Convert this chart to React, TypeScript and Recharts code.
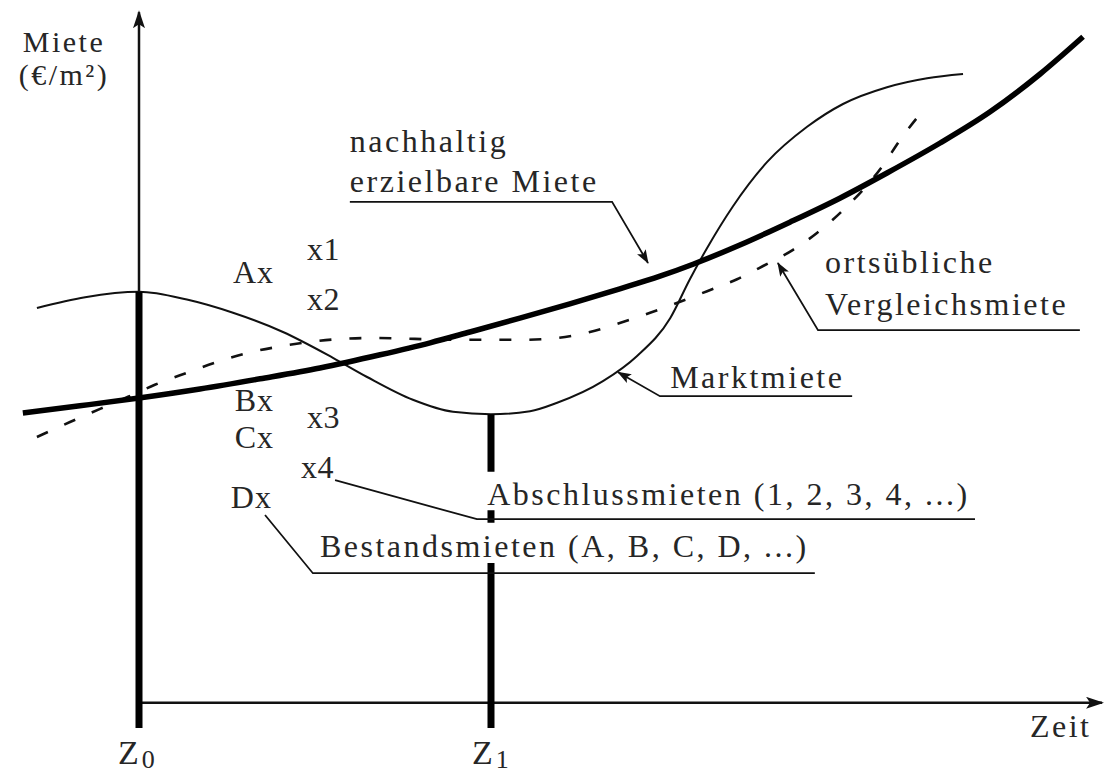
import React from 'react';
import { ComposedChart, Line, Scatter, XAxis, YAxis } from 'recharts';

// Zeit t in Jahren (Z0 = 0, Z1 = 10), Miete r in €/m²
const nachhaltigErzielbar = [
  { t: -3.3, r: 4.85 }, { t: -1.68, r: 4.97 }, { t: 0, r: 5.1 }, { t: 1.73, r: 5.25 },
  { t: 3.44, r: 5.42 }, { t: 5.14, r: 5.6 }, { t: 6.85, r: 5.82 }, { t: 8.27, r: 6.02 },
  { t: 9.4, r: 6.2 }, { t: 10.82, r: 6.43 }, { t: 12.24, r: 6.67 }, { t: 13.66, r: 6.92 },
  { t: 14.8, r: 7.13 }, { t: 15.74, r: 7.33 }, { t: 17.07, r: 7.65 }, { t: 18.49, r: 8.03 },
  { t: 19.91, r: 8.43 }, { t: 21.25, r: 8.85 }, { t: 22.76, r: 9.35 }, { t: 24.18, r: 9.87 },
  { t: 25.6, r: 10.5 }, { t: 26.82, r: 11.12 },
];

const marktmiete = [
  { t: -2.9, r: 6.6 }, { t: -1.53, r: 6.78 }, { t: 0, r: 6.87 }, { t: 1.36, r: 6.74 },
  { t: 2.67, r: 6.52 }, { t: 4.09, r: 6.2 }, { t: 5.51, r: 5.77 }, { t: 6.48, r: 5.45 },
  { t: 7.78, r: 5.07 }, { t: 8.92, r: 4.87 }, { t: 10, r: 4.83 }, { t: 11.11, r: 4.88 },
  { t: 11.88, r: 5.02 }, { t: 13.18, r: 5.38 }, { t: 14.15, r: 5.8 }, { t: 15.09, r: 6.43 },
  { t: 15.65, r: 7.08 }, { t: 16.14, r: 7.6 }, { t: 16.88, r: 8.3 }, { t: 17.84, r: 9.03 },
  { t: 18.98, r: 9.62 }, { t: 20.0, r: 10.0 }, { t: 21.25, r: 10.28 }, { t: 22.39, r: 10.43 },
  { t: 23.41, r: 10.5 },
];

const vergleichsmiete = [
  { t: -2.9, r: 4.45 }, { t: -1.96, r: 4.7 }, { t: -0.31, r: 5.12 }, { t: 0.45, r: 5.32 },
  { t: 1.36, r: 5.52 }, { t: 2.22, r: 5.7 }, { t: 3.07, r: 5.85 }, { t: 3.92, r: 5.95 },
  { t: 5.63, r: 6.08 }, { t: 6.56, r: 6.1 }, { t: 9.12, r: 6.07 }, { t: 10.82, r: 6.07 },
  { t: 11.88, r: 6.1 }, { t: 12.81, r: 6.2 }, { t: 13.66, r: 6.35 }, { t: 14.52, r: 6.52 },
  { t: 16.14, r: 6.88 }, { t: 16.99, r: 7.08 }, { t: 17.73, r: 7.3 }, { t: 18.58, r: 7.57 },
  { t: 19.26, r: 7.85 }, { t: 20.0, r: 8.23 }, { t: 21.14, r: 8.98 }, { t: 21.62, r: 9.4 },
  { t: 22.24, r: 9.87 },
];

// Einzelne Mieten
const bestandsmieten = [
  { name: 'A', t: 3.61, r: 7.15 },
  { name: 'B', t: 3.61, r: 5.02 },
  { name: 'C', t: 3.61, r: 4.4 },
  { name: 'D', t: 3.55, r: 3.4 },
];
const abschlussmieten = [
  { name: '1', t: 5.0, r: 7.53 },
  { name: '2', t: 5.0, r: 6.7 },
  { name: '3', t: 5.0, r: 4.73 },
  { name: '4', t: 4.83, r: 3.9 },
];

// Zeitpunkte Z0 und Z1 (Balken vom Marktniveau bis unter die Zeitachse)
const z0Balken = [{ t: 0, r: 6.87 }, { t: 0, r: -0.4 }];
const z1Balken = [
  { t: 10, r: 4.83 }, { t: 10, r: 3.87 }, { t: 10, r: null },
  { t: 10, r: 3.23 }, { t: 10, r: 3.02 }, { t: 10, r: null },
  { t: 10, r: 2.35 }, { t: 10, r: -0.4 },
];

// Achsen
const yAchse = [{ t: 0, r: 0.02 }, { t: 0, r: 11.53 }];
const xAchse = [{ t: 0, r: 0.02 }, { t: 27.36, r: 0.02 }];

// Hinweislinien zu den Beschriftungen
const hinweisNachhaltig = [{ t: 5.99, r: 8.37 }, { t: 13.44, r: 8.37 }, { t: 14.46, r: 7.35 }];
const hinweisVergleich = [{ t: 26.73, r: 6.23 }, { t: 19.29, r: 6.23 }, { t: 18.15, r: 7.35 }];
const hinweisMarkt = [{ t: 20.26, r: 5.13 }, { t: 14.8, r: 5.13 }, { t: 13.61, r: 5.53 }];
const hinweisAbschluss = [{ t: 23.75, r: 3.08 }, { t: 9.6, r: 3.08 }, { t: 5.57, r: 3.73 }];
const hinweisBestand = [{ t: 19.2, r: 2.18 }, { t: 4.94, r: 2.18 }, { t: 3.58, r: 3.15 }];

// Beschriftungen
const texte = [
  'Miete', '(€/m²)', 'nachhaltig', 'erzielbare Miete', 'ortsübliche', 'Vergleichsmiete',
  'Marktmiete', 'Abschlussmieten (1, 2, 3, 4, ...)', 'Bestandsmieten (A, B, C, D, ...)', 'Zeit',
];
const textAnker = [
  { t: -2.13, r: 10.86, anchor: 'middle', size: 30 },
  { t: -2.13, r: 10.32, anchor: 'middle', size: 30 },
  { t: 5.99, r: 9.2, anchor: 'start', size: 32 },
  { t: 5.99, r: 8.53, anchor: 'start', size: 32 },
  { t: 19.49, r: 7.18, anchor: 'start', size: 32 },
  { t: 19.49, r: 6.48, anchor: 'start', size: 32 },
  { t: 15.09, r: 5.27, anchor: 'start', size: 32 },
  { t: 9.89, r: 3.32, anchor: 'start', size: 32 },
  { t: 5.14, r: 2.45, anchor: 'start', size: 32 },
  { t: 25.31, r: -0.55, anchor: 'start', size: 32 },
];
const beschriftungen = texte.map((text, i) => ({ text, ...textAnker[i] }));

const zeitpunkte = [
  { sub: '0', t: -0.6, r: -1.0 },
  { sub: '1', t: 9.46, r: -1.0 },
];

const FONT = "'Liberation Serif', 'Times New Roman', serif";
const TEXT = '#262626';

const Beschriftung = (props: any) => {
  const { cx, cy, payload } = props;
  return (
    <text x={cx} y={cy} textAnchor={payload.anchor} fontFamily={FONT} fontSize={payload.size}
      letterSpacing={2.5} fill={TEXT}>
      {payload.text}
    </text>
  );
};

const Bestand = (props: any) => {
  const { cx, cy, payload } = props;
  return (
    <text x={cx + 8} y={cy + 8} textAnchor="end" fontFamily={FONT} fontSize={32}
      letterSpacing={1} fill={TEXT}>
      {payload.name + 'x'}
    </text>
  );
};

const Abschluss = (props: any) => {
  const { cx, cy, payload } = props;
  return (
    <text x={cx - 8} y={cy + 8} textAnchor="start" fontFamily={FONT} fontSize={32}
      letterSpacing={0.5} fill={TEXT}>
      {'x' + payload.name}
    </text>
  );
};

const Zeitpunkt = (props: any) => {
  const { cx, cy, payload } = props;
  return (
    <text x={cx} y={cy} fontFamily={FONT} fontSize={34} fill={TEXT}>
      Z<tspan dx={3} dy={4} fontSize={26}>{payload.sub}</tspan>
    </text>
  );
};

export default function App() {
  const thin = { dot: false, activeDot: false, isAnimationActive: false, stroke: '#111', type: 'linear' as const };
  return (
    <div style={{ position: 'absolute', left: 0, top: 0, width: 1104, height: 774, background: '#fff' }}>
      <svg width={0} height={0} style={{ position: 'absolute' }}>
        <defs>
          <marker id="pfeil" markerUnits="userSpaceOnUse" markerWidth={14} markerHeight={10}
            refX={13} refY={5} orient="auto">
            <path d="M0,0 L14,5 L0,10 L3,5 Z" fill="#111" />
          </marker>
          <marker id="achsenpfeil" markerUnits="userSpaceOnUse" markerWidth={18} markerHeight={12}
            refX={16} refY={6} orient="auto">
            <path d="M0,0 L18,6 L0,12 L4,6 Z" fill="#111" />
          </marker>
        </defs>
      </svg>
      <ComposedChart width={1104} height={774} margin={{ top: 0, right: 0, bottom: 0, left: 0 }}>
        <XAxis type="number" dataKey="t" domain={[-3.949, 27.415]} hide allowDataOverflow />
        <YAxis type="number" domain={[-1.1667, 11.7333]} hide allowDataOverflow />

        {/* Achsen */}
        <Line {...thin} data={xAchse} dataKey="r" strokeWidth={2.5} markerEnd="url(#achsenpfeil)" />
        <Line {...thin} data={yAchse} dataKey="r" strokeWidth={2.5} markerEnd="url(#achsenpfeil)" />

        {/* Mietkurven */}
        <Line data={vergleichsmiete} dataKey="r" type="monotoneX" stroke="#111" strokeWidth={2.6}
          strokeDasharray="12 18" dot={false} activeDot={false} isAnimationActive={false} />
        <Line data={marktmiete} dataKey="r" type="monotoneX" stroke="#111" strokeWidth={2}
          dot={false} activeDot={false} isAnimationActive={false} />
        <Line data={nachhaltigErzielbar} dataKey="r" type="monotoneX" stroke="#000" strokeWidth={5.5}
          dot={false} activeDot={false} isAnimationActive={false} />

        {/* Zeitpunkte */}
        <Line {...thin} data={z0Balken} dataKey="r" stroke="#000" strokeWidth={7} />
        <Line {...thin} data={z1Balken} dataKey="r" stroke="#000" strokeWidth={7} connectNulls={false} />

        {/* Hinweislinien */}
        <Line {...thin} data={hinweisNachhaltig} dataKey="r" strokeWidth={1.8} markerEnd="url(#pfeil)" />
        <Line {...thin} data={hinweisVergleich} dataKey="r" strokeWidth={1.8} markerEnd="url(#pfeil)" />
        <Line {...thin} data={hinweisMarkt} dataKey="r" strokeWidth={1.8} markerEnd="url(#pfeil)" />
        <Line {...thin} data={hinweisAbschluss} dataKey="r" strokeWidth={1.8} />
        <Line {...thin} data={hinweisBestand} dataKey="r" strokeWidth={1.8} />

        {/* Einzelmieten und Beschriftungen */}
        <Scatter data={bestandsmieten} dataKey="r" shape={Bestand} isAnimationActive={false} />
        <Scatter data={abschlussmieten} dataKey="r" shape={Abschluss} isAnimationActive={false} />
        <Scatter data={beschriftungen} dataKey="r" shape={Beschriftung} isAnimationActive={false} />
        <Scatter data={zeitpunkte} dataKey="r" shape={Zeitpunkt} isAnimationActive={false} />
      </ComposedChart>
    </div>
  );
}
